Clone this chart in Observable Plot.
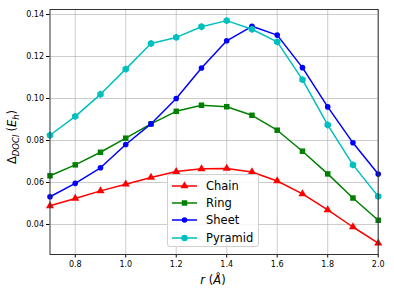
<!DOCTYPE html>
<html><head><meta charset="utf-8">
<script src="https://cdn.jsdelivr.net/npm/d3@7"></script>
<script src="https://cdn.jsdelivr.net/npm/@observablehq/plot@0.6"></script>
<style>
body{margin:0;background:#fff}
#wrap{position:relative;width:394px;height:296px;font-family:"DejaVu Sans",sans-serif}
#legend{position:absolute;left:167px;top:174px;width:92px;height:73px;box-sizing:border-box;background:rgba(255,255,255,0.85);border:1px solid #d0d0d0;border-radius:3px}
.row{position:absolute;left:0;height:17px;display:flex;align-items:center;font-size:11.5px;color:#000}
.row svg{margin-left:4px;margin-right:9px}
</style>
</head><body><div id="wrap"><div id="legend"></div></div>
<script>
const rValues = [0.7, 0.8, 0.9, 1.0, 1.1, 1.2, 1.3, 1.4, 1.5, 1.6, 1.7, 1.8, 1.9, 2.0];
const chain   = [0.0489, 0.0524, 0.0560, 0.0592, 0.0624, 0.0652, 0.0665, 0.0667, 0.0650, 0.0607, 0.0546, 0.0469, 0.0388, 0.0311];
const ring    = [0.0632, 0.0684, 0.0744, 0.0811, 0.0879, 0.0939, 0.0968, 0.0961, 0.0920, 0.0849, 0.0749, 0.0641, 0.0526, 0.0420];
const sheet   = [0.0532, 0.0596, 0.0670, 0.0781, 0.0879, 0.1000, 0.1145, 0.1275, 0.1344, 0.1302, 0.1147, 0.0960, 0.0789, 0.0640];
const pyramid = [0.0825, 0.0915, 0.1020, 0.1140, 0.1262, 0.1291, 0.1342, 0.1371, 0.1330, 0.1270, 0.1090, 0.0874, 0.0684, 0.0534];
const seriesNames = ["Chain", "Ring", "Sheet", "Pyramid"];
const seriesColors = ["#ff0000", "#008000", "#0000ff", "#00bfbf"];
const seriesSymbols = ["triangle", "square", "circle", "hexagon"];
const seriesSizes = [3.0, 3.1, 2.8, 3.2];
const xTicks = [0.8, 1.0, 1.2, 1.4, 1.6, 1.8, 2.0];
const yTicks = [0.04, 0.06, 0.08, 0.10, 0.12, 0.14];

const seriesValues = [chain, ring, sheet, pyramid];
const data = seriesNames.flatMap((name, k) => rValues.map((x, i) => ({name, r: x, v: seriesValues[k][i]})));

const marks = [
  Plot.gridX(xTicks, {stroke: "#b0b0b0", strokeOpacity: 0.65, strokeWidth: 1}),
  Plot.gridY(yTicks, {stroke: "#b0b0b0", strokeOpacity: 0.65, strokeWidth: 1}),
  Plot.axisX(xTicks, {tickSize: 3.5, tickPadding: 3, tickFormat: d3.format(".1f"), fontSize: 8, label: null, stroke: "#000"}),
  Plot.axisY(yTicks, {tickSize: 3.5, tickPadding: 2.5, tickFormat: d3.format(".2f"), fontSize: 8, label: null, stroke: "#000"})
];
seriesNames.forEach((name, k) => {
  const d = data.filter(o => o.name === name);
  marks.push(Plot.line(d, {x: "r", y: "v", stroke: seriesColors[k], strokeWidth: 1.5}));
  marks.push(Plot.dot(d, {x: "r", y: "v", fill: seriesColors[k], stroke: "none", symbol: seriesSymbols[k], r: seriesSizes[k]}));
});
marks.push(Plot.frame({stroke: "#333", strokeWidth: 1}));

const chart = Plot.plot({
  width: 394, height: 296,
  marginLeft: 49.5, marginRight: 16.3, marginTop: 9, marginBottom: 42,
  x: {domain: [0.7, 2.0]},
  y: {domain: [0.0257, 0.1424]},
  style: {fontFamily: "DejaVu Sans", color: "#000", background: "#fff"},
  marks
});
document.getElementById("wrap").prepend(chart);

const svg = d3.select(chart);
// y label
const yl = svg.append("text").attr("transform", "translate(16,137) rotate(-90)")
  .attr("text-anchor", "middle").attr("font-size", 11.5).attr("fill", "#000").attr("font-family", "DejaVu Sans");
yl.append("tspan").text("Δ");
yl.append("tspan").attr("font-size", 8.5).attr("font-style", "italic").attr("dy", 2.5).text("DOCI");
yl.append("tspan").attr("dy", -2.5).attr("dx", 3).text("(");
yl.append("tspan").attr("font-style", "italic").text("E");
yl.append("tspan").attr("font-size", 8.5).attr("font-style", "italic").attr("dy", 2.5).text("h");
yl.append("tspan").attr("dy", -2.5).text(")");
// x label
const xl = svg.append("text").attr("x", 213).attr("y", 284)
  .attr("text-anchor", "middle").attr("font-size", 11.5).attr("fill", "#000").attr("font-family", "DejaVu Sans");
xl.append("tspan").attr("font-style", "italic").text("r");
xl.append("tspan").text(" (");
xl.append("tspan").attr("font-style", "italic").text("Å");
xl.append("tspan").text(")");

// legend
const leg = d3.select("#legend");
const types = {triangle: d3.symbolTriangle, square: d3.symbolSquare, circle: d3.symbolCircle, hexagon: d3.symbolCircle};
seriesNames.forEach((name, k) => {
  const row = leg.append("div").attr("class", "row").style("top", (2 + k * 17.4) + "px");
  const s = row.append("svg").attr("width", 25).attr("height", 10);
  s.append("line").attr("x1", 0).attr("x2", 25).attr("y1", 5).attr("y2", 5)
    .attr("stroke", seriesColors[k]).attr("stroke-width", 1.5);
  s.append("path").attr("transform", "translate(12.5,5)")
    .attr("d", d3.symbol(types[seriesSymbols[k]], Math.PI * seriesSizes[k] * seriesSizes[k])())
    .attr("fill", seriesColors[k]);
  row.append("span").text(name);
});
</script>
</body></html>
